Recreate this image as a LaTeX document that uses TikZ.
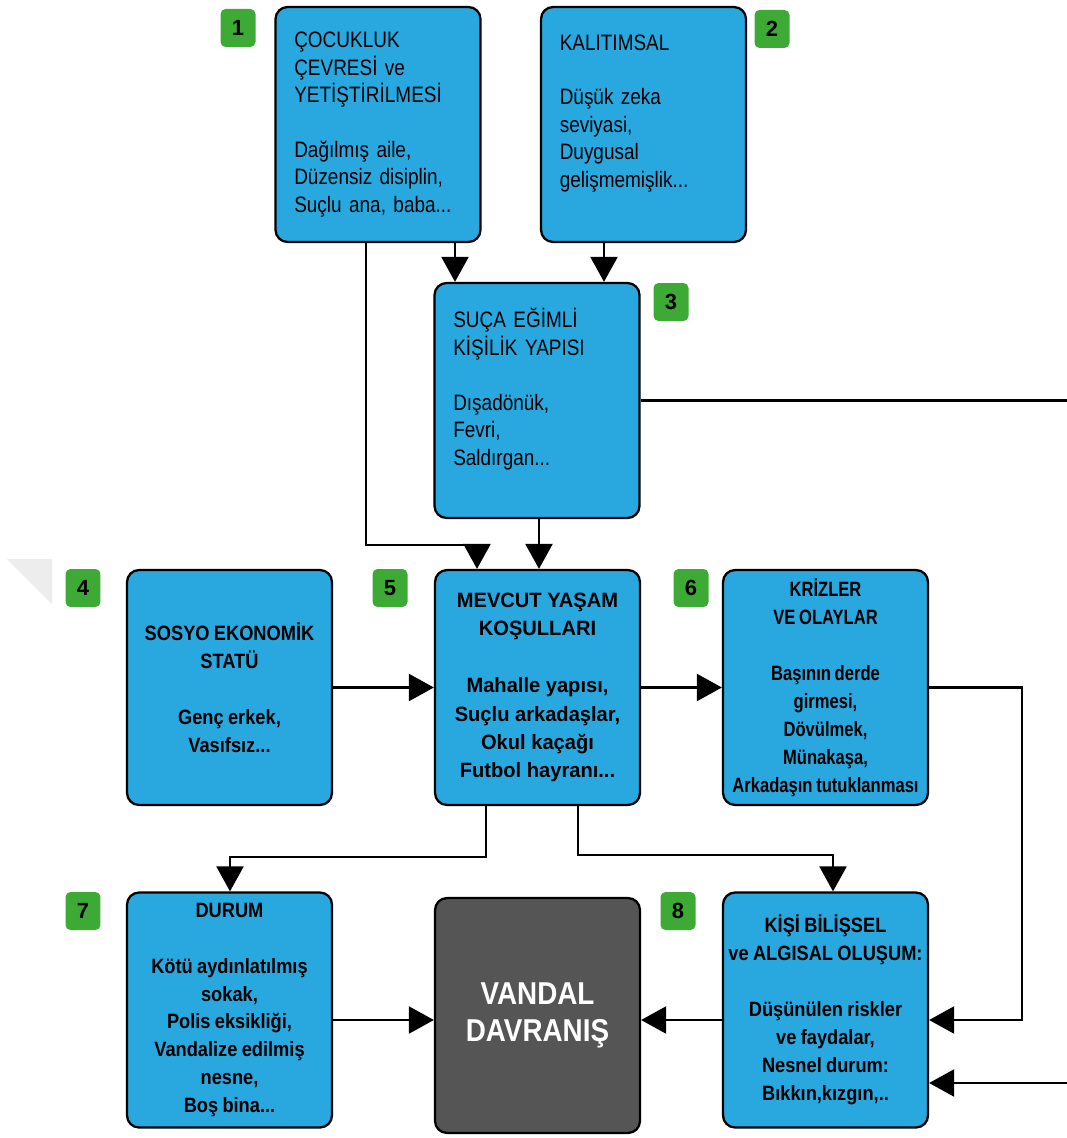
\documentclass[tikz,border=0pt]{standalone}
\usepackage{fontspec}
\setmainfont{Liberation Sans}
\newfontfamily\incefont{Liberation Sans}[FakeStretch=0.85,WordSpace=0.8]
\newfontfamily\kalinfont{Liberation Sans}[FakeStretch=0.88,WordSpace=0.85]
\newfontfamily\genisfont{Liberation Sans}[FakeStretch=0.97]
\newfontfamily\darfont{Liberation Sans}[FakeStretch=0.8,WordSpace=0.8]
\usepackage{tikz}
\usetikzlibrary{arrows.meta}
\definecolor{kutumavi}{RGB}{41,168,224}
\definecolor{rozetyesil}{RGB}{61,170,53}
\definecolor{koyugri}{RGB}{85,85,85}

\begin{document}
\begin{tikzpicture}[x=0.02cm,y=-0.02cm,
    kutu/.style={draw,line width=1.3pt,rounded corners=0.24cm,fill=kutumavi,
      minimum width=4.1cm,minimum height=4.7cm,inner sep=0pt},
    sol/.style={align=left,text width=3.35cm,
      font=\incefont\fontsize{12.7}{15.6}\selectfont},
    orta/.style={align=center,font=\kalinfont\bfseries\fontsize{11.8}{15.9}\selectfont},
    rozet/.style={fill=rozetyesil,rounded corners=0.1cm,minimum width=0.7cm,
      minimum height=0.76cm,inner sep=0pt,font=\bfseries\fontsize{12.5}{12.5}\selectfont},
    hat/.style={line width=1.3pt},
    ok/.style={hat,-{Triangle[length=0.5cm,width=0.54cm]}}]
      \useasboundingbox (0,0) rectangle (1067,1138);
      \fill[black!7] (7,559) -- (52,559) -- (52,604) -- cycle;

      % ust sira
      \node[kutu,sol] (cocukluk) at (378,124.5) {ÇOCUKLUK\\ÇEVRESİ ve\\YETİŞTİRİLMESİ\\~\\Dağılmış aile,\\Düzensiz disiplin,\\Suçlu ana, baba...};
      \node[kutu,sol] (kalitim) at (643.5,124.5) {KALITIMSAL\\~\\Düşük zeka\\seviyasi,\\Duygusal\\gelişmemişlik...\\~};
      \node[kutu,sol] (kisilik) at (537,400.5) {SUÇA EĞİMLİ\\KİŞİLİK YAPISI\\~\\Dışadönük,\\Fevri,\\Saldırgan...\\~};

      % orta sira
      \node[kutu,orta] (sosyo) at (229.5,687.5) {SOSYO EKONOMİK\\STATÜ\\~\\Genç erkek,\\Vasıfsız...};
      \node[kutu,orta,font=\genisfont\bfseries\fontsize{11.8}{16.2}\selectfont] (mevcut) at (537.5,687.5)
        {MEVCUT YAŞAM\\KOŞULLARI\\~\\Mahalle yapısı,\\Suçlu arkadaşlar,\\Okul kaçağı\\Futbol hayranı...};
      \node[kutu,orta,font=\darfont\bfseries\fontsize{11.8}{15.9}\selectfont] (kriz) at (825.5,687.5)
        {KRİZLER\\VE OLAYLAR\\~\\Başının derde\\girmesi,\\Dövülmek,\\Münakaşa,\\Arkadaşın tutuklanması};

      % alt sira
      \node[kutu,orta] (durum) at (229.5,1010) {DURUM\\~\\Kötü aydınlatılmış\\sokak,\\Polis eksikliği,\\Vandalize edilmiş\\nesne,\\Boş bina...};
      \node[kutu,fill=koyugri,text=white,align=center,
        font=\kalinfont\bfseries\fontsize{18}{21}\selectfont] (vandal) at (537.5,1015.5) {VANDAL\\DAVRANIŞ};
      \node[kutu,orta] (bilissel) at (825.5,1010) {KİŞİ BİLİŞSEL\\ve ALGISAL OLUŞUM:\\~\\Düşünülen riskler\\ve faydalar,\\Nesnel durum:\\Bıkkın,kızgın,..};

      \node[rozet] (r1) at (238,28) {1};
      \node[rozet] (r2) at (772,29) {2};
      \node[rozet] (r3) at (671,302) {3};
      \node[rozet] (r4) at (83,588) {4};
      \node[rozet] (r5) at (390,588) {5};
      \node[rozet] (r6) at (691,588) {6};
      \node[rozet] (r7) at (83,911) {7};
      \node[rozet] (r8) at (678,911) {8};

      \draw[ok] (cocukluk.south -| 455,0) -- (kisilik.north -| 455,0);
      \draw[ok] (kalitim.south -| 604,0) -- (kisilik.north -| 604,0);
      \draw[ok] (cocukluk.south -| 366,0) |- (477,545) -- (mevcut.north -| 477,0);
      \draw[ok] (kisilik.south -| 539,0) -- (mevcut.north -| 539,0);
      \coordinate (sagust) at (1067,400.5);
      \draw[hat] (kisilik.east) -- (sagust);

      \draw[ok] (sosyo.east) -- (mevcut.west);
      \draw[ok] (mevcut.east) -- (kriz.west);
      \draw[ok] (kriz.east) -| (1022,1020) -- (bilissel.east |- 0,1020);
      \draw[ok] (mevcut.south -| 486,0) |- (230,857) -- (durum.north -| 230,0);
      \draw[ok] (mevcut.south -| 578,0) |- (833,855) -- (bilissel.north -| 833,0);

      \draw[ok] (durum.east |- 0,1020) -- (vandal.west |- 0,1020);
      \draw[ok] (bilissel.west |- 0,1020) -- (vandal.east |- 0,1020);
      \coordinate (sagalt) at (1067,1083);
      \draw[ok] (sagalt) -- (bilissel.east |- sagalt);
      % \draw[hat] (sagust) -- (sagalt);
\end{tikzpicture}
\end{document}
